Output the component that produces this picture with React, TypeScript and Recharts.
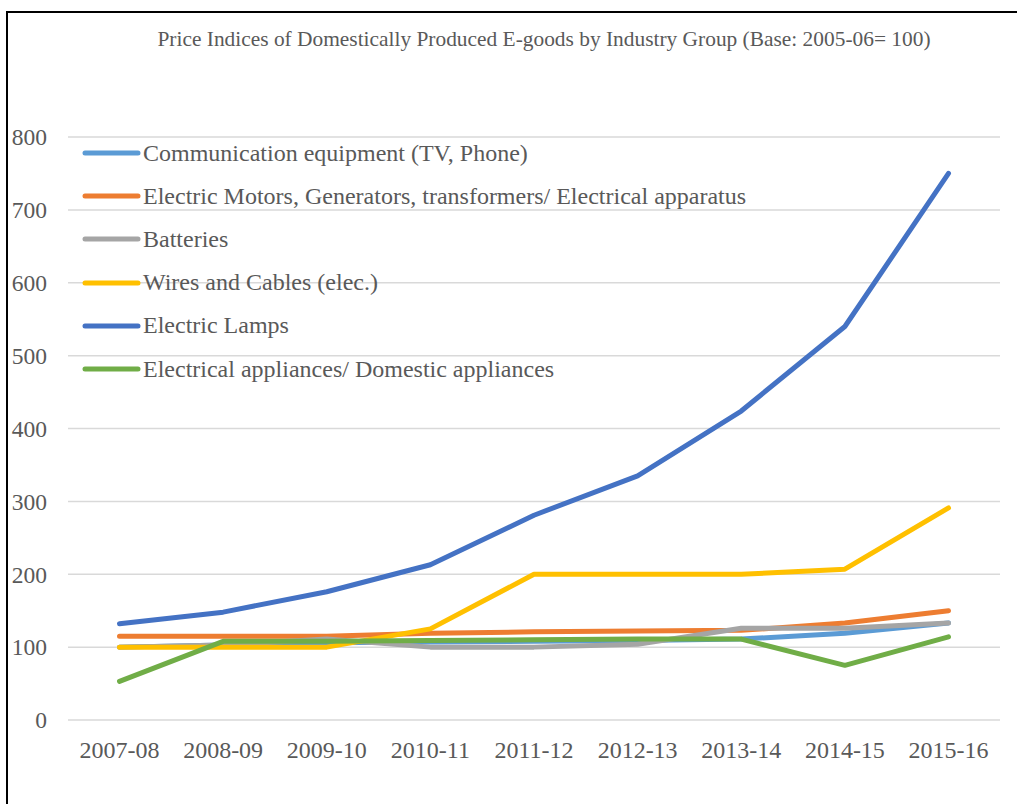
import React from 'react';
import { LineChart, Line, XAxis, YAxis, CartesianGrid } from 'recharts';

const years = ['2007-08', '2008-09', '2009-10', '2010-11', '2011-12', '2012-13', '2013-14', '2014-15', '2015-16'];
const communication = [100, 103, 106, 107, 108, 109, 111, 119, 133];
const motors = [115, 115, 115, 119, 121, 122, 123, 133, 150];
const batteries = [100, 103, 111, 100, 100, 104, 126, 126, 133];
const wires = [100, 100, 100, 125, 200, 200, 200, 207, 291];
const lamps = [132, 148, 176, 213, 281, 335, 424, 540, 750];
const appliances = [53, 108, 108, 109, 110, 111, 111, 75, 114];
const yTicks = [0, 100, 200, 300, 400, 500, 600, 700, 800];

const series = [
  { key: 'comm', name: 'Communication equipment (TV, Phone)', color: '#5B9BD5', values: communication },
  { key: 'motors', name: 'Electric Motors, Generators, transformers/ Electrical apparatus', color: '#ED7D31', values: motors },
  { key: 'batt', name: 'Batteries', color: '#A5A5A5', values: batteries },
  { key: 'wires', name: 'Wires and Cables (elec.)', color: '#FFC000', values: wires },
  { key: 'lamps', name: 'Electric Lamps', color: '#4472C4', values: lamps },
  { key: 'appl', name: 'Electrical appliances/ Domestic appliances', color: '#70AD47', values: appliances },
];

const data = years.map((y, i) => {
  const row: Record<string, string | number> = { year: y };
  series.forEach((s) => {
    row[s.key] = s.values[i];
  });
  return row;
});

const FONT = '"Liberation Serif", "Times New Roman", serif';

const LegendBox = () => (
  <div style={{ position: 'absolute', left: 80, top: 131.5, fontFamily: FONT }}>
    {series.map((s) => (
      <div key={s.key} style={{ height: 43.2, display: 'flex', alignItems: 'center' }}>
        <svg width={63} height={10} style={{ display: 'block' }}>
          <line x1={5} y1={5} x2={58} y2={5} stroke={s.color} strokeWidth={5} strokeLinecap="round" />
        </svg>
        <span style={{ fontSize: 24, color: '#595959', whiteSpace: 'nowrap' }}>{s.name}</span>
      </div>
    ))}
  </div>
);

export default function App() {
  return (
    <div style={{ position: 'absolute', left: 0, top: 0, width: 1017, height: 804, background: '#fff', overflow: 'hidden' }}>
      <LineChart
        width={1017}
        height={804}
        data={data}
        margin={{ top: 137, right: 17, bottom: 0, left: 0 }}
        style={{ position: 'absolute', left: 0, top: 0 }}
      >
        <CartesianGrid vertical={false} stroke="#D9D9D9" strokeWidth={1.5} />
        <XAxis
          dataKey="year"
          height={84}
          axisLine={false}
          tickLine={false}
          tickSize={0}
          tickMargin={21}
          padding={{ left: 51.5, right: 51.5 }}
          interval={0}
          tick={{ fontFamily: FONT, fontSize: 24, fill: '#595959' }}
        />
        <YAxis
          width={68}
          domain={[0, 800]}
          ticks={yTicks}
          axisLine={false}
          tickLine={false}
          tickSize={0}
          tickMargin={21}
          interval={0}
          tick={{ fontFamily: FONT, fontSize: 23.5, fill: '#595959' }}
        />
        {series.map((s) => (
          <Line
            key={s.key}
            dataKey={s.key}
            name={s.name}
            stroke={s.color}
            strokeWidth={5}
            strokeLinecap="round"
            strokeLinejoin="round"
            dot={false}
            activeDot={false}
            isAnimationActive={false}
          />
        ))}
      </LineChart>
      <LegendBox />
      <div style={{ position: 'absolute', left: 6, top: 11, right: 0, height: 2, background: '#000' }} />
      <div style={{ position: 'absolute', left: 6, top: 11, width: 2, bottom: 0, background: '#000' }} />
      <svg width={1017} height={60} style={{ position: 'absolute', left: 0, top: 0 }}>
        <text x={544} y={46} textAnchor="middle" fontFamily={FONT} fontSize={21.4} fill="#595959">
          Price Indices of Domestically Produced E-goods by Industry Group (Base: 2005-06= 100)
        </text>
      </svg>
    </div>
  );
}
